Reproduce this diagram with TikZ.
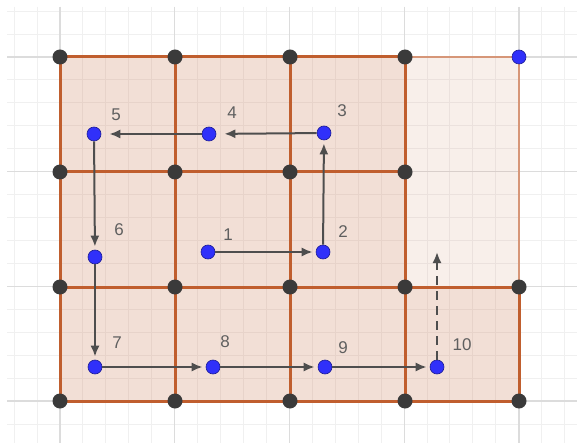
\documentclass[tikz,border=0pt]{standalone}
\usepackage{fontspec}
\setmainfont{Liberation Sans}
\usetikzlibrary{arrows.meta}
\definecolor{edgeor}{RGB}{192,94,46}
\definecolor{edgelt}{RGB}{214,150,120}
\definecolor{fillor}{RGB}{200,110,70}
\definecolor{gridmin}{RGB}{240,240,240}
\definecolor{gridmaj}{RGB}{220,220,220}
\definecolor{dotgray}{RGB}{58,58,58}
\definecolor{dotblue}{RGB}{48,48,250}
\definecolor{vecgray}{RGB}{78,78,78}
\definecolor{labgray}{RGB}{95,95,95}
\begin{document}
\begin{tikzpicture}[x=1pt,y=-1pt,
  gdot/.style={circle,fill=dotgray,inner sep=0pt,minimum size=15pt},
  bdot/.style={circle,fill=dotblue,draw=dotblue!60!black,line width=0.6pt,inner sep=0pt,minimum size=14pt},
  vec/.style={draw=vecgray,line width=2pt,-{Latex[length=11pt,width=9pt]},shorten >=3pt,shorten <=0pt},
  edgeline/.style={draw=edgeor,line width=3pt},
  lab/.style={text=labgray,font=\fontsize{17}{17}\selectfont,inner sep=0pt}]
\useasboundingbox (0,0) rectangle (577,443);
\fill[white] (0,0) rectangle (577,443);
% minor grid
\foreach \i in {-2,...,22}{
  \draw[gridmin,line width=1pt] ({60+22.94*\i},7) -- ({60+22.94*\i},443);}
\foreach \j in {-2,...,16}{
  \draw[gridmin,line width=1pt] (7,{57+22.94*\j}) -- (577,{57+22.94*\j});}
% major grid
\foreach \i in {0,...,4}{
  \draw[gridmaj,line width=1.4pt] ({60+114.75*\i},7) -- ({60+114.75*\i},443);}
\foreach \j in {0,...,3}{
  \draw[gridmaj,line width=1.4pt] (7,{57+114.67*\j}) -- (577,{57+114.67*\j});}
% fills
\fill[fillor,fill opacity=0.22] (60,57) -- (405,57) -- (405,287) -- (519,287) -- (519,401) -- (60,401) -- cycle;
\fill[fillor,fill opacity=0.11] (405,57) rectangle (519,287);
% edges
\draw[edgelt,line width=2.5pt] (405,57) -- (519,57) -- (519,287);
\foreach \x in {60,175,290,405}{\draw[edgeline] (\x,57) -- (\x,401);}
\draw[edgeline] (519,287) -- (519,401);
\foreach \y in {57,172}{\draw[edgeline] (60,\y) -- (405,\y);}
\foreach \y in {287,401}{\draw[edgeline] (60,\y) -- (519,\y);}
% gray dots
\foreach \x/\y/\n in {60/57/a0,175/57/b0,290/57/c0,405/57/d0,
  60/172/a1,175/172/b1,290/172/c1,405/172/d1,
  60/287/a2,175/287/b2,290/287/c2,405/287/d2,519/287/e2,
  60/401/a3,175/401/b3,290/401/c3,405/401/d3,519/401/e3}{
  \node[gdot] (g\n) at (\x,\y) {};}
\node[bdot] (corner) at (519,57) {};
% blue points
\node[bdot] (p1) at (208,252) {};
\node[bdot] (p2) at (323,252) {};
\node[bdot] (p3) at (324,133) {};
\node[bdot] (p4) at (209,134) {};
\node[bdot] (p5) at (94,134) {};
\node[bdot] (p6) at (95,257) {};
\node[bdot] (p7) at (95,367) {};
\node[bdot] (p8) at (213,367) {};
\node[bdot] (p9) at (325,367) {};
\node[bdot] (p10) at (437,367) {};
\coordinate (c10) at (437,252);
% vectors
\draw[vec] (p1) -- (p2);
\draw[vec] (p2) -- (p3);
\draw[vec,shorten >=8pt] (p3) -- (p4);
\draw[vec,shorten >=8pt] (p4) -- (p5);
\draw[vec] (p5) -- (p6);
\draw[vec] (p6) -- (p7);
\draw[vec] (p7) -- (p8);
\draw[vec] (p8) -- (p9);
\draw[vec] (p9) -- (p10);
\draw[vec,shorten >=0pt,dash pattern=on 9pt off 6pt] (p10) -- (c10);
% labels
\node[lab] (l1) at (228,235) {1};
\node[lab] (l2) at (343,232) {2};
\node[lab] (l3) at (342,111) {3};
\node[lab] (l4) at (232,113) {4};
\node[lab] (l5) at (116,115) {5};
\node[lab] (l6) at (119,230) {6};
\node[lab] (l7) at (117,343) {7};
\node[lab] (l8) at (225,342) {8};
\node[lab] (l9) at (343,348) {9};
\node[lab] (l10) at (462,345) {10};
\end{tikzpicture}
\end{document}
